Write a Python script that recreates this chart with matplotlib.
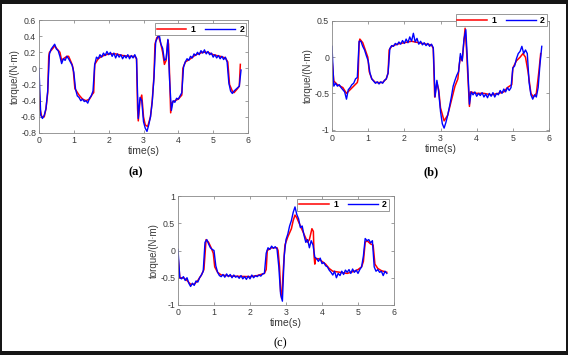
import numpy as np
import matplotlib
matplotlib.use('Agg')
import matplotlib.pyplot as plt
from matplotlib.patches import Rectangle

plt.rcParams['font.family'] = ['Liberation Sans', 'DejaVu Sans']

# sample times of the measured (blue) curves
t_blue = np.round(np.arange(0, 5.8001, 0.05), 2)

# ---- panel (a)
t_red_a = [0.0, 0.03, 0.08, 0.15, 0.2, 0.25, 0.28, 0.3, 0.4, 0.45, 0.5, 0.6, 0.65, 0.7, 0.8, 0.85,
           0.95, 0.98, 1.03, 1.15, 1.25, 1.35, 1.45, 1.53, 1.57, 1.6, 1.7, 1.8, 2.0, 2.2, 2.4, 2.6,
           2.75, 2.8, 2.83, 2.85, 2.9, 2.95, 3.0, 3.05, 3.12, 3.2, 3.25, 3.3, 3.33, 3.38, 3.43, 3.5,
           3.55, 3.6, 3.65, 3.7, 3.72, 3.75, 3.78, 3.82, 3.9, 4.0, 4.1, 4.13, 4.2, 4.35, 4.5, 4.7,
           4.85, 5.0, 5.2, 5.35, 5.42, 5.47, 5.55, 5.6, 5.7, 5.75, 5.78]
v_red_a = [-0.2, -0.5, -0.6, -0.6, -0.5, -0.3, 0.15, 0.2, 0.25, 0.28, 0.25, 0.2, 0.1, 0.12, 0.15, 0.15,
           0.05, 0.0, -0.25, -0.33, -0.38, -0.4, -0.38, -0.32, -0.3, 0.05, 0.12, 0.15, 0.18, 0.18, 0.16, 0.15,
           0.15, 0.12, -0.5, -0.65, -0.4, -0.33, -0.6, -0.7, -0.72, -0.6, -0.4, -0.1, 0.3, 0.38, 0.4, 0.3,
           0.2, 0.05, 0.1, 0.35, 0.3, -0.1, -0.55, -0.42, -0.4, -0.38, -0.33, 0.0, 0.08, 0.12, 0.17, 0.2,
           0.2, 0.17, 0.15, 0.13, 0.08, -0.2, -0.28, -0.3, -0.25, -0.22, 0.05]
v_blue_a = [0.00, -0.58, -0.62, -0.58, -0.50, -0.28, 0.18, 0.24, 0.27, 0.30, 0.24, 0.22, 0.15, 0.06, 0.12, 0.10,
            0.15, 0.12, 0.08, 0.04, -0.05, -0.26, -0.34, -0.36, -0.40, -0.38, -0.41, -0.40, -0.43, -0.37, -0.34, -0.28,
            0.05, 0.14, 0.12, 0.17, 0.14, 0.19, 0.16, 0.21, 0.17, 0.20, 0.15, 0.19, 0.13, 0.18, 0.14, 0.17,
            0.12, 0.16, 0.13, 0.17, 0.12, 0.16, 0.13, 0.17, 0.12, -0.62, -0.36, -0.40, -0.66, -0.74, -0.78, -0.70,
            -0.60, -0.42, -0.12, 0.33, 0.38, 0.42, 0.30, 0.25, 0.10, 0.12, 0.36, -0.15, -0.52, -0.40, -0.42, -0.37,
            -0.38, -0.34, -0.30, 0.02, 0.08, 0.12, 0.10, 0.15, 0.13, 0.18, 0.16, 0.20, 0.17, 0.22, 0.19, 0.23,
            0.18, 0.21, 0.17, 0.19, 0.14, 0.17, 0.13, 0.16, 0.12, 0.15, 0.11, 0.14, 0.08, -0.18, -0.28, -0.31,
            -0.28, -0.26, -0.24, -0.22, -0.02]

# ---- panel (b)
t_red_b = [0.0, 0.05, 0.15, 0.3, 0.4, 0.5, 0.6, 0.7, 0.72, 0.75, 0.77, 0.85, 0.92, 0.99, 1.03, 1.1,
           1.2, 1.4, 1.5, 1.55, 1.58, 1.65, 1.8, 2.0, 2.2, 2.4, 2.6, 2.75, 2.8, 2.84, 2.9, 2.95,
           3.0, 3.1, 3.2, 3.3, 3.4, 3.48, 3.52, 3.55, 3.6, 3.68, 3.72, 3.76, 3.8, 3.83, 4.0, 4.2,
           4.4, 4.6, 4.75, 4.85, 4.97, 5.0, 5.1, 5.2, 5.28, 5.35, 5.42, 5.5, 5.57, 5.65, 5.72, 5.77]
v_red_b = [-0.03, -0.33, -0.38, -0.42, -0.5, -0.45, -0.4, -0.35, -0.3, 0.2, 0.25, 0.2, 0.1, 0.0, -0.2, -0.3,
           -0.35, -0.35, -0.3, -0.22, 0.1, 0.15, 0.18, 0.2, 0.22, 0.2, 0.18, 0.17, 0.12, -0.55, -0.35, -0.45,
           -0.7, -0.88, -0.8, -0.6, -0.4, -0.3, -0.1, 0.0, -0.05, 0.4, 0.1, -0.3, -0.68, -0.48, -0.5, -0.5,
           -0.52, -0.5, -0.48, -0.42, -0.38, -0.15, -0.05, 0.0, 0.05, 0.0, -0.2, -0.5, -0.55, -0.5, -0.2, 0.05]
v_blue_b = [0.15, -0.40, -0.36, -0.40, -0.38, -0.42, -0.45, -0.48, -0.58, -0.45, -0.42, -0.38, -0.36, -0.30, -0.28, 0.22,
            0.22, 0.15, 0.10, 0.02, -0.05, -0.22, -0.30, -0.33, -0.36, -0.34, -0.37, -0.34, -0.36, -0.32, -0.30, -0.22,
            0.12, 0.16, 0.15, 0.19, 0.17, 0.21, 0.18, 0.23, 0.19, 0.25, 0.20, 0.28, 0.22, 0.33, 0.21, 0.26,
            0.18, 0.22, 0.17, 0.20, 0.16, 0.19, 0.15, 0.18, 0.13, -0.55, -0.32, -0.48, -0.75, -0.92, -0.98, -0.90,
            -0.80, -0.68, -0.55, -0.40, -0.32, -0.25, -0.20, 0.05, -0.05, 0.25, 0.38, -0.10, -0.65, -0.48, -0.52, -0.48,
            -0.54, -0.50, -0.53, -0.49, -0.55, -0.51, -0.56, -0.50, -0.54, -0.49, -0.55, -0.50, -0.52, -0.46, -0.50, -0.44,
            -0.48, -0.42, -0.46, -0.42, -0.15, -0.12, -0.02, 0.05, 0.08, 0.15, 0.05, 0.10, 0.05, -0.35, -0.52, -0.58,
            -0.52, -0.55, -0.42, -0.10, 0.15]

# ---- panel (c)
t_red_c = [0.0, 0.05, 0.15, 0.25, 0.35, 0.45, 0.55, 0.65, 0.72, 0.78, 0.85, 0.92, 0.98, 1.02, 1.1, 1.2,
           1.5, 2.0, 2.2, 2.4, 2.45, 2.48, 2.6, 2.75, 2.78, 2.82, 2.85, 2.88, 2.93, 2.97, 3.05, 3.15,
           3.2, 3.25, 3.3, 3.4, 3.5, 3.6, 3.65, 3.72, 3.76, 3.78, 3.8, 3.82, 3.9, 4.0, 4.1, 4.2,
           4.3, 4.5, 4.7, 4.9, 5.0, 5.1, 5.15, 5.2, 5.25, 5.35, 5.42, 5.47, 5.55, 5.65, 5.8]
v_red_c = [-0.1, -0.5, -0.5, -0.55, -0.62, -0.62, -0.55, -0.45, -0.35, 0.2, 0.15, 0.05, -0.05, -0.3, -0.4, -0.45,
           -0.47, -0.48, -0.46, -0.42, -0.35, 0.0, 0.05, 0.05, 0.0, -0.3, -0.75, -0.88, -0.3, 0.1, 0.25, 0.4,
           0.55, 0.65, 0.6, 0.45, 0.3, 0.15, 0.2, 0.4, 0.35, -0.1, -0.25, -0.15, -0.15, -0.2, -0.25, -0.33,
           -0.38, -0.4, -0.42, -0.38, -0.35, -0.3, -0.2, 0.15, 0.18, 0.12, 0.1, -0.25, -0.33, -0.37, -0.4]
v_blue_c = [0.02, -0.50, -0.52, -0.48, -0.55, -0.50, -0.60, -0.66, -0.60, -0.64, -0.56, -0.58, -0.50, -0.45, -0.38, 0.15,
            0.20, 0.12, 0.05, 0.02, 0.00, -0.28, -0.40, -0.46, -0.48, -0.44, -0.49, -0.43, -0.48, -0.44, -0.50, -0.45,
            -0.49, -0.47, -0.51, -0.46, -0.52, -0.48, -0.53, -0.47, -0.52, -0.45, -0.50, -0.46, -0.48, -0.45, -0.47, -0.43,
            -0.42, -0.05, 0.05, 0.02, 0.08, 0.04, 0.07, 0.03, -0.30, -0.80, -0.93, -0.10, 0.20, 0.30, 0.45, 0.55,
            0.70, 0.80, 0.66, 0.58, 0.42, 0.45, 0.28, 0.15, 0.20, 0.05, 0.18, 0.10, -0.12, -0.15, -0.20, -0.14,
            -0.24, -0.22, -0.28, -0.30, -0.36, -0.40, -0.45, -0.38, -0.50, -0.42, -0.46, -0.38, -0.44, -0.36, -0.40, -0.35,
            -0.42, -0.34, -0.40, -0.36, -0.42, -0.35, -0.30, -0.10, 0.22, 0.18, 0.20, 0.14, 0.18, -0.30, -0.38, -0.35,
            -0.40, -0.38, -0.46, -0.38, -0.42]

yticks_a = [-0.8, -0.6, -0.4, -0.2, 0, 0.2, 0.4, 0.6]
yticks_b = [-1, -0.5, 0, 0.5]
yticks_c = [-1, -0.5, 0, 0.5, 1]

W, H = 568, 355
fig = plt.figure(figsize=(W / 100, H / 100), dpi=100, facecolor='#161616')
# white page inside the dark frame
fig.patches.append(Rectangle((2 / W, 4 / H), 564 / W, 347 / H, transform=fig.transFigure,
                             facecolor='white', edgecolor='none', zorder=-10))


def px_box(x0, x1, ytop, ybot):
    return [x0 / W, 1 - ybot / H, (x1 - x0) / W, (ybot - ytop) / H]


panels = [
    (px_box(39, 248, 20, 133), t_red_a, v_red_a, v_blue_a, (-0.8, 0.6), yticks_a, (0.99, 0.975), '(a)', 136, 172, 'bold'),
    (px_box(332, 549, 21, 131), t_red_b, v_red_b, v_blue_b, (-1.02, 0.5), yticks_b, (0.99, 1.065), '(b)', 431, 172, 'bold'),
    (px_box(178, 394, 196, 305), t_red_c, v_red_c, v_blue_c, (-1, 1), yticks_c, (0.975, 0.975), '(c)', 280, 343, 'normal'),
]

for box, tr, vr, vb, ylim, yt, leg_at, tag, tx, ty, tw in panels:
    ax = fig.add_axes(box)
    ax.plot(tr, vr, color='#ff0000', lw=1.1, label='1')
    ax.plot(t_blue, vb, color='#0000ff', lw=1.0, label='2')
    ax.set_xlim(0, 6)
    ax.set_ylim(*ylim)
    ax.set_xticks(range(7))
    ax.set_yticks(yt)
    ax.set_yticklabels(['%g' % v for v in yt])
    ax.tick_params(direction='in', top=True, right=True, length=2, width=0.5,
                   colors='#777777', labelcolor='#3a3a3a', labelsize=6.3, pad=2)
    for s in ax.spines.values():
        s.set_color('#888888')
        s.set_linewidth(0.6)
    ax.set_xlabel('time(s)', fontsize=7.5, color='#3a3a3a', labelpad=1)
    ax.set_ylabel('torque/(N·m)', fontsize=7, color='#3a3a3a', labelpad=1)
    leg = ax.legend(loc='upper right', bbox_to_anchor=leg_at, ncol=2, fontsize=6.3,
                    handlelength=3.4, handletextpad=0.5, columnspacing=1.1, borderpad=0.2,
                    borderaxespad=0, fancybox=False, framealpha=1)
    leg.get_frame().set_edgecolor('#888888')
    leg.get_frame().set_linewidth(0.6)
    for txt in leg.get_texts():
        txt.set_fontweight('bold')
    fig.text(tx / W, 1 - ty / H, tag, ha='center', va='center', fontsize=9,
             family=['Liberation Serif', 'DejaVu Serif'], fontweight=tw)

fig.savefig('out.png', dpi=100, facecolor=fig.get_facecolor())
